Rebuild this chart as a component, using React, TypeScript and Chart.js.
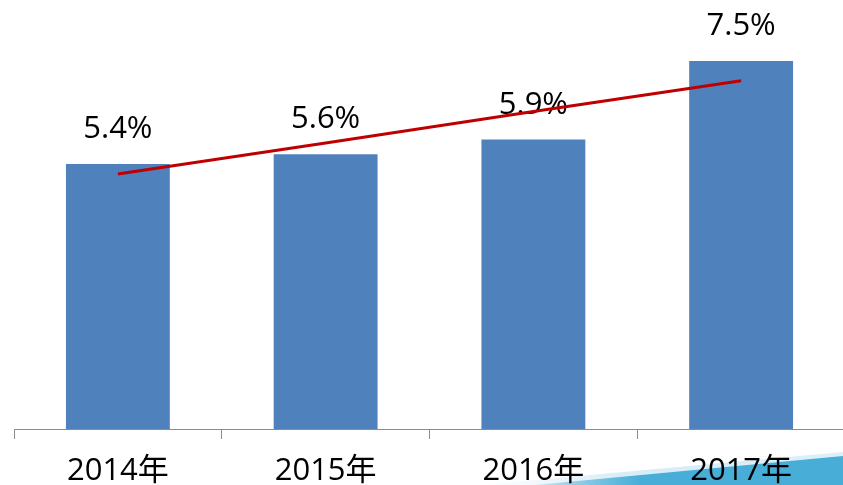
import React, { useEffect, useRef } from "react";
import { Chart, registerables } from "chart.js";

Chart.register(...registerables);

const categories = ["2014年", "2015年", "2016年", "2017年"];
const shares = [5.4, 5.6, 5.9, 7.5];
const shareLabels = ["5.4%", "5.6%", "5.9%", "7.5%"];
const trend = [5.2, 5.83, 6.47, 7.1];
const yMin = 0;
const yMax = 8.5;

const FONT = '"Open Sans", "Noto Sans CJK SC", sans-serif';

const stripePlugin = {
  id: "stripe",
  beforeDraw(chart: any) {
    const ctx = chart.ctx;
    const H = chart.height;
    const W = chart.width;
    ctx.save();
    // pale edge
    let g = ctx.createLinearGradient(480, 0, 843, 0);
    g.addColorStop(0, "rgba(205,232,245,0)");
    g.addColorStop(0.4, "rgba(205,232,245,0.8)");
    g.addColorStop(1, "rgba(220,240,250,1)");
    ctx.fillStyle = g;
    ctx.beginPath();
    ctx.moveTo(480, H);
    ctx.lineTo(843, H - 33);
    ctx.lineTo(W, H - 34);
    ctx.lineTo(W, H);
    ctx.closePath();
    ctx.fill();
    // main blue
    g = ctx.createLinearGradient(530, 0, 640, 0);
    g.addColorStop(0, "rgba(72,174,216,0.2)");
    g.addColorStop(1, "rgba(72,174,216,1)");
    ctx.fillStyle = g;
    ctx.beginPath();
    ctx.moveTo(535, H);
    ctx.lineTo(843, H - 29);
    ctx.lineTo(W, H - 30);
    ctx.lineTo(W, H);
    ctx.closePath();
    ctx.fill();
    ctx.restore();
  },
};

const labelPlugin = {
  id: "valueLabels",
  afterDatasetDraw(chart: any, args: any) {
    if (args.index !== 0) return;
    const ctx = chart.ctx;
    const meta = chart.getDatasetMeta(0);
    ctx.save();
    ctx.font = `31px ${FONT}`;
    ctx.fillStyle = "#000000";
    ctx.textAlign = "center";
    ctx.textBaseline = "alphabetic";
    meta.data.forEach((el: any, i: number) => {
      ctx.fillText(shareLabels[i], el.x, el.y - 26);
    });
    ctx.restore();
  },
};

export default function App() {
  const ref = useRef<HTMLCanvasElement | null>(null);

  useEffect(() => {
    if (!ref.current) return;
    const chart = new Chart(ref.current, {
      type: "bar",
      data: {
        labels: categories,
        datasets: [
          {
            type: "bar",
            label: "share",
            data: shares,
            backgroundColor: "#4F81BD",
            borderWidth: 0,
            categoryPercentage: 1,
            barPercentage: 0.5,
            order: 1,
          } as any,
          {
            type: "line",
            label: "trend",
            data: trend,
            borderColor: "#C00000",
            borderWidth: 3,
            pointRadius: 0,
            tension: 0,
            fill: false,
            order: 0,
          } as any,
        ],
      },
      options: {
        responsive: false,
        animation: false,
        devicePixelRatio: 1,
        layout: { padding: { left: 14, right: 15, top: 12, bottom: 0 } },
        plugins: {
          legend: { display: false },
          tooltip: { enabled: false },
        },
        scales: {
          y: { display: false, min: yMin, max: yMax },
          x: {
            offset: true,
            grid: {
              offset: true,
              drawOnChartArea: false,
              drawTicks: true,
              tickLength: 10,
              color: "#8c8c8c",
              lineWidth: 1,
            },
            border: { display: true, color: "#8c8c8c", width: 1 },
            ticks: {
              color: "#000000",
              font: { size: 31, family: FONT },
              padding: 14,
              maxRotation: 0,
              autoSkip: false,
            },
            afterFit: (s: any) => {
              s.height = 56;
            },
          },
        },
      },
      plugins: [stripePlugin, labelPlugin],
    } as any);
    return () => chart.destroy();
  }, []);

  return (
    <div
      style={{
        position: "absolute",
        left: 0,
        top: 0,
        width: 843,
        height: 485,
        overflow: "hidden",
        background: "#ffffff",
      }}
    >
      <canvas ref={ref} width={860} height={485} style={{ display: "block" }} />
    </div>
  );
}
